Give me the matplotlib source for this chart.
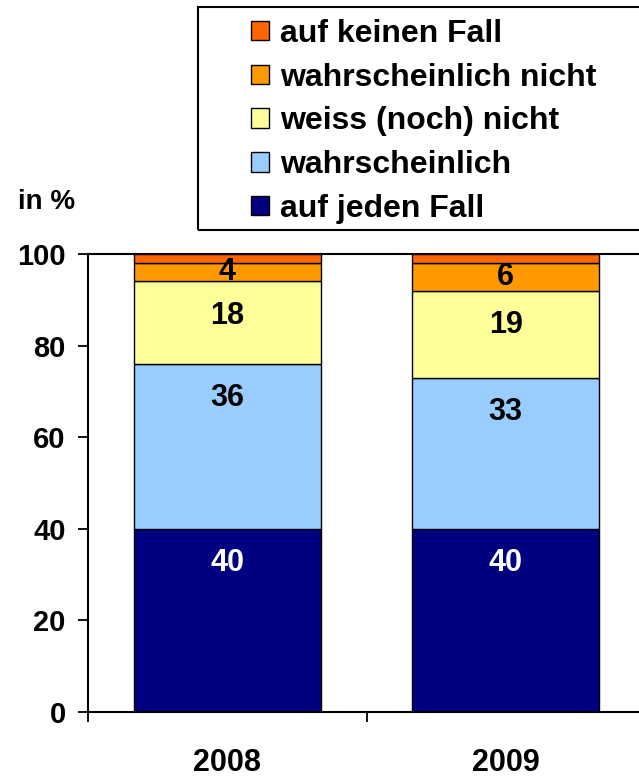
import numpy as np
import matplotlib.pyplot as plt
from matplotlib.patches import Rectangle

plt.rcParams['font.family'] = ['Liberation Sans', 'DejaVu Sans']
plt.rcParams['font.weight'] = 'bold'

years = ["2008", "2009"]
categories = ["auf jeden Fall", "wahrscheinlich", "weiss (noch) nicht",
              "wahrscheinlich nicht", "auf keinen Fall"]
values = [
    [40, 40],   # auf jeden Fall
    [36, 33],   # wahrscheinlich
    [18, 19],   # weiss (noch) nicht
    [4, 6],     # wahrscheinlich nicht
    [2, 2],     # auf keinen Fall
]
show_label = [True, True, True, True, False]
colors = ["#000080", "#99CCFF", "#FFFF99", "#FF9900", "#FF6600"]
label_colors = ["white", "black", "black", "black", "black"]

fig = plt.figure(figsize=(6.39, 7.79), dpi=100)
ax = fig.add_axes([88 / 639, 67 / 779, 557 / 639, 458 / 779])

x = np.arange(len(years))
bottom = np.zeros(len(years))
handles = []
for vals, name, col, lcol, show in zip(values, categories, colors, label_colors, show_label):
    vals = np.array(vals, dtype=float)
    bars = ax.bar(x, vals, 0.67, bottom=bottom, color=col, edgecolor="black",
                  linewidth=1.0, label=name, zorder=2)
    handles.append(bars)
    if show:
        for xi, v, b in zip(x, vals, bottom):
            # labels sit a little below the top of the segment, centred if small
            y = max(b + v - 7.5, b + v / 2)
            ax.text(xi, y, f"{int(v)}", ha="center", va="center",
                    fontsize=22, fontweight="bold", color=lcol, zorder=3)
    bottom += vals

ax.set_xlim(-0.5, 1.5)
ax.set_ylim(0, 100)
ax.set_yticks(np.arange(0, 101, 20))
ax.tick_params(axis="y", labelsize=21, length=7, width=1.3, pad=9)
ax.set_xticks(x)
ax.set_xticklabels(years, fontsize=22, fontweight="bold")
ax.tick_params(axis="x", which="major", length=0, pad=26)
ax.set_xticks([-0.5, 0.5, 1.5], minor=True)
ax.tick_params(axis="x", which="minor", length=7, width=1.3)
for s in ax.spines.values():
    s.set_linewidth(1.5)
    s.set_color("black")

fig.text(18 / 639, 1 - 202 / 779, "in %", fontsize=20, fontweight="bold",
         ha="left", va="center")

# legend frame extends past the right edge like the original
fig.patches.append(Rectangle((198 / 639, 1 - 230 / 779), 0.75, 223 / 779,
                             transform=fig.transFigure, fill=False,
                             edgecolor="black", linewidth=1.5))
leg = fig.legend(handles[::-1], categories[::-1], loc="upper left",
                 bbox_to_anchor=(251 / 639, 1 - 19 / 779), frameon=False,
                 prop={"size": 23, "weight": "bold"}, handlelength=0.56,
                 handleheight=0.56, handletextpad=0.34, labelspacing=0.43,
                 borderpad=0, borderaxespad=0)

fig.savefig("out.png", dpi=100)
